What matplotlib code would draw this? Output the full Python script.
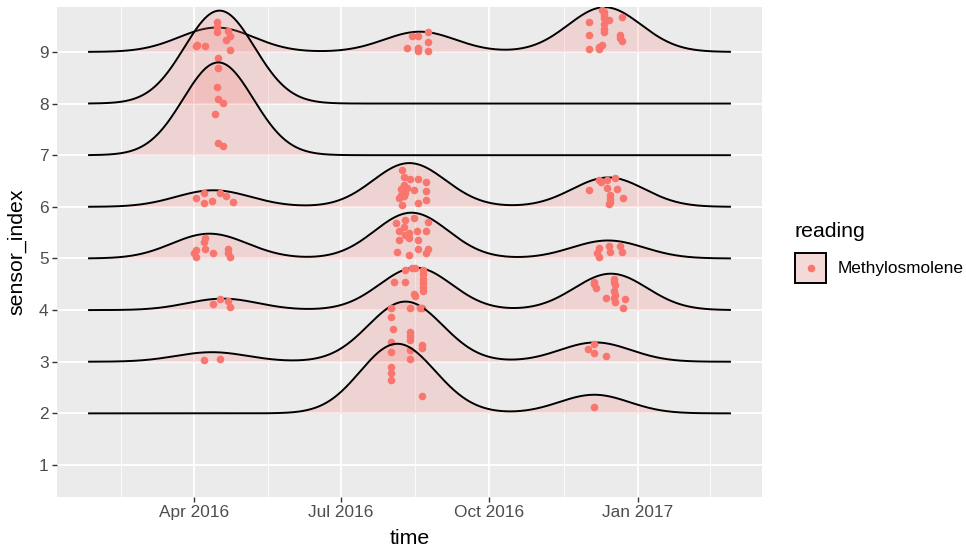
import numpy as np
import pandas as pd
import matplotlib
matplotlib.use("Agg")
import matplotlib.pyplot as plt
import matplotlib.dates as mdates
from matplotlib.patches import Rectangle

plt.rcParams["font.family"] = ["Liberation Sans", "DejaVu Sans"]

# readings per sensor: time of reading and the jittered height of its point
s9_time = ["2016-04-02", "2016-04-03", "2016-04-08", "2016-04-15", "2016-04-15", "2016-04-15",
           "2016-04-22", "2016-04-23", "2016-04-21", "2016-04-23",
           "2016-08-11", "2016-08-14", "2016-08-18", "2016-08-24", "2016-08-24", "2016-08-24",
           "2016-08-18", "2016-08-18",
           "2016-12-10", "2016-12-11", "2016-12-11", "2016-12-11", "2016-12-11", "2016-12-11",
           "2016-12-14", "2016-12-22", "2016-12-02", "2016-12-02", "2016-12-02", "2016-12-08",
           "2016-12-10", "2016-12-21", "2016-12-21", "2016-12-22", "2016-12-11", "2016-12-08"]
s9_y = [9.12, 9.13, 9.12, 9.58, 9.48, 9.39, 9.41, 9.31, 9.23, 9.04,
        9.08, 9.31, 9.31, 9.39, 9.19, 9.02, 9.08, 9.02,
        9.81, 9.78, 9.66, 9.55, 9.45, 9.38, 9.62, 9.68, 9.58, 9.33, 9.06, 9.06,
        9.14, 9.33, 9.26, 9.21, 9.72, 9.10]

s8_time = ["2016-04-16", "2016-04-16", "2016-04-16", "2016-04-19"]
s8_y = [8.88, 8.68, 8.08, 8.02]

s7_time = ["2016-04-14", "2016-04-16", "2016-04-19", "2016-04-15"]
s7_y = [7.79, 7.23, 7.17, 8.33]

s6_time = ["2016-04-02", "2016-04-07", "2016-04-07", "2016-04-12", "2016-04-17", "2016-04-21",
           "2016-04-25",
           "2016-08-08", "2016-08-09", "2016-08-13", "2016-08-18", "2016-08-23", "2016-08-09",
           "2016-08-09", "2016-08-09", "2016-08-11", "2016-08-15", "2016-08-07", "2016-08-06",
           "2016-08-08", "2016-08-18", "2016-08-23", "2016-08-23", "2016-08-10", "2016-08-07",
           "2016-12-08", "2016-12-09", "2016-12-13", "2016-12-18", "2016-12-02", "2016-12-13",
           "2016-12-19", "2016-12-15", "2016-12-15", "2016-12-15", "2016-12-14", "2016-12-23"]
s6_y = [6.17, 6.27, 6.08, 6.12, 6.27, 6.21, 6.10,
        6.72, 6.58, 6.54, 6.54, 6.48, 6.43, 6.30, 6.20, 6.37, 6.33, 6.23, 6.17,
        6.04, 6.08, 6.31, 6.14, 6.27, 6.35,
        6.52, 6.48, 6.52, 6.56, 6.33, 6.37, 6.35, 6.23, 6.16, 6.10, 6.06, 6.17]

s5_time = ["2016-04-08", "2016-04-07", "2016-04-08", "2016-04-02", "2016-04-01", "2016-04-02",
           "2016-04-13", "2016-04-22", "2016-04-22", "2016-04-23",
           "2016-08-04", "2016-08-10", "2016-08-15", "2016-08-24", "2016-08-06", "2016-08-12",
           "2016-08-17", "2016-08-23", "2016-08-06", "2016-08-12", "2016-08-18", "2016-08-24",
           "2016-08-05", "2016-08-12", "2016-08-23", "2016-08-18", "2016-08-09", "2016-08-10",
           "2016-12-08", "2016-12-07", "2016-12-08", "2016-12-14", "2016-12-15", "2016-12-21",
           "2016-12-22"]
s5_y = [5.39, 5.31, 5.19, 5.17, 5.10, 5.02, 5.10, 5.19, 5.10, 5.02,
        5.68, 5.74, 5.78, 5.70, 5.54, 5.50, 5.54, 5.54, 5.35, 5.39, 5.35, 5.19,
        5.12, 5.06, 5.10, 5.19, 5.60, 5.45,
        5.21, 5.10, 5.02, 5.25, 5.13, 5.25, 5.12]

s4_time = ["2016-04-17", "2016-04-13", "2016-04-22", "2016-04-23",
           "2016-08-10", "2016-08-14", "2016-08-16", "2016-08-21", "2016-08-21", "2016-08-21",
           "2016-08-21", "2016-08-21", "2016-08-03", "2016-08-10", "2016-08-15", "2016-08-16",
           "2016-08-21", "2016-08-13", "2016-08-20",
           "2016-12-05", "2016-12-06", "2016-12-17", "2016-12-18", "2016-12-17", "2016-12-17",
           "2016-12-18", "2016-12-12", "2016-12-24", "2016-12-23", "2016-12-17", "2016-12-05",
           "2016-12-18"]
s4_y = [4.21, 4.12, 4.17, 4.06,
        4.77, 4.81, 4.81, 4.77, 4.69, 4.61, 4.53, 4.45, 4.55, 4.55, 4.32, 4.28, 4.36,
        4.04, 4.04,
        4.55, 4.42, 4.61, 4.48, 4.36, 4.23, 4.15, 4.23, 4.21, 4.04, 4.55, 4.50, 4.30]

s3_time = ["2016-04-07", "2016-04-17",
           "2016-08-01", "2016-08-01", "2016-08-02", "2016-08-01", "2016-08-01", "2016-08-13",
           "2016-08-13", "2016-08-13", "2016-08-13", "2016-08-13", "2016-08-20", "2016-08-20",
           "2016-08-19",
           "2016-12-05", "2016-12-01", "2016-12-05", "2016-12-12"]
s3_y = [3.04, 3.06,
        4.04, 3.87, 3.64, 3.39, 3.19, 3.58, 3.50, 3.42, 3.23, 3.06, 3.33, 3.27, 4.04,
        3.34, 3.25, 3.16, 3.12]

s2_time = ["2016-08-01", "2016-08-01", "2016-08-01", "2016-08-20", "2016-12-05"]
s2_y = [2.89, 2.78, 2.64, 2.33, 2.12]

sensor_index = [9, 8, 7, 6, 5, 4, 3, 2]
sensor_time = [s9_time, s8_time, s7_time, s6_time, s5_time, s4_time, s3_time, s2_time]
sensor_y = [s9_y, s8_y, s7_y, s6_y, s5_y, s4_y, s3_y, s2_y]

pink = "#F8766D"
bw = 21.7      # joint bandwidth in days
scale = 1.8    # ridge scale

times = [mdates.date2num(pd.to_datetime(t)) for t in sensor_time]
all_t = np.concatenate(times)
grid = np.linspace(all_t.min() - 3 * bw, all_t.max() + 3 * bw, 600)

dens = []
for t in times:
    d = np.exp(-0.5 * ((grid[:, None] - t[None, :]) / bw) ** 2).sum(axis=1)
    dens.append(d / (len(t) * bw * np.sqrt(2 * np.pi)))
top = max(d.max() for d in dens)
dens = [d / top * scale for d in dens]

fig = plt.figure(figsize=(9.66, 5.48), dpi=100)
ax = fig.add_axes([57 / 966, 1 - 497 / 548, 705 / 966, 490 / 548])
ax.set_facecolor("#EBEBEB")
for sp in ax.spines.values():
    sp.set_visible(False)

for i, (s, d, t, y) in enumerate(zip(sensor_index, dens, times, sensor_y)):
    z = 3 + i * 3
    ax.fill_between(grid, s, s + d, color=pink, alpha=0.2, lw=0, zorder=z)
    ax.plot(grid, s + d, color="black", lw=1.4, zorder=z + 1)
    ax.scatter(t, y, s=30, color=pink, lw=0, zorder=z + 2)

span = grid[-1] - grid[0]
ax.set_xlim(grid[0] - 0.05 * span, grid[-1] + 0.05 * span)
ax.set_ylim(0.38, 9.87)

majors = pd.to_datetime(["2016-01-01", "2016-04-01", "2016-07-01", "2016-10-01",
                         "2017-01-01", "2017-04-01"])
major_num = mdates.date2num(majors)
ax.set_xticks(major_num[1:5])
ax.set_xticklabels([d.strftime("%b %Y") for d in majors[1:5]])
ax.set_xticks((major_num[:-1] + major_num[1:]) / 2, minor=True)
ax.set_yticks(range(1, 10))

ax.grid(which="major", color="white", lw=1.3, zorder=0)
ax.grid(which="minor", axis="x", color="white", lw=0.6, zorder=0)
ax.set_axisbelow(True)
ax.tick_params(which="major", length=3.5, width=1, color="#333333",
               labelsize=12.4, labelcolor="#4D4D4D", pad=2.5)
ax.tick_params(which="minor", length=0)

fig.text(409.5 / 966, 1 - 538 / 548, "time", fontsize=15.3, ha="center", va="center")
fig.text(17 / 966, 1 - 252 / 548, "sensor_index", fontsize=15.3, rotation=90,
         ha="center", va="center")

# legend
fig.text(794 / 966, 1 - 232 / 548, "reading", fontsize=15.3, ha="left", va="center")
key = fig.add_axes([794 / 966, 1 - 284 / 548, 33 / 966, 32 / 548])
key.set_xlim(0, 1)
key.set_ylim(0, 1)
key.axis("off")
key.add_patch(Rectangle((0, 0), 1, 1, facecolor="#F2F2F2", edgecolor="none"))
key.add_patch(Rectangle((0.04, 0.04), 0.92, 0.92, facecolor=pink, alpha=0.2, edgecolor="none"))
key.add_patch(Rectangle((0.04, 0.04), 0.92, 0.92, facecolor="none", edgecolor="black", lw=1.4))
key.scatter([0.5], [0.5], s=30, color=pink, lw=0)
fig.text(838 / 966, 1 - 268 / 548, "Methylosmolene", fontsize=12.4, ha="left", va="center")

fig.savefig("out.png", dpi=100, facecolor="white")
